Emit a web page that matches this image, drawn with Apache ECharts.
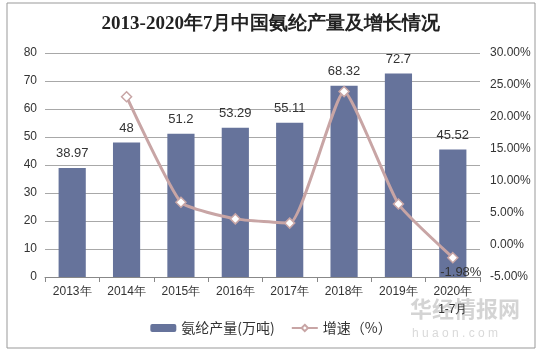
<!DOCTYPE html>
<html>
<head>
<meta charset="utf-8">
<script src="https://cdn.jsdelivr.net/npm/echarts@6/dist/echarts.min.js"></script>
<style>
html,body{margin:0;padding:0;background:#fff;}
#main{width:542px;height:354px;}
</style>
</head>
<body>
<div id="main"></div>
<script>
var years = ['2013年','2014年','2015年','2016年','2017年','2018年','2019年','2020年\n1-7月'];
var output = [38.97, 48, 51.2, 53.29, 55.11, 68.32, 72.7, 45.52];   // 氨纶产量 万吨
var growth = [null, 23.17, 6.67, 4.08, 3.42, 23.97, 6.41, -1.98];  // 增速 %

var myChart = echarts.init(document.getElementById('main'));
var option = {
    backgroundColor: '#fff',
    title: {
        text: '2013-2020年7月中国氨纶产量及增长情况',
        left: 'center',
        top: 10,
        textStyle: {
            fontFamily: 'serif',
            fontSize: 19,
            fontWeight: 'bold',
            color: '#222'
        }
    },
    color: ['#66739b', '#c8a5a5'],
    legend: {
        bottom: 14,
        left: 'center',
        itemGap: 16,
        itemWidth: 26,
        itemHeight: 8,
        textStyle: { fontSize: 14, color: '#333', fontFamily: 'Noto Sans CJK SC' },
        data: ['氨纶产量(万吨)', '增速（%）']
    },
    grid: { left: 45, right: 62, top: 53, bottom: 77 },
    xAxis: {
        type: 'category',
        data: years,
        axisLine: { lineStyle: { color: '#888' } },
        axisTick: { show: true, alignWithLabel: false, length: 5, lineStyle: { color: '#888' } },
        axisLabel: { color: '#333', fontSize: 12, fontFamily: 'Arial', lineHeight: 18, margin: 6 }
    },
    yAxis: [{
        type: 'value',
        min: 0,
        max: 80,
        interval: 10,
        axisLine: { show: false },
        axisTick: { show: false },
        axisLabel: { color: '#333', fontSize: 12, fontFamily: 'Arial', margin: 8 },
        splitLine: { lineStyle: { color: '#a8a8a8' } }
    }, {
        type: 'value',
        min: -5,
        max: 30,
        interval: 5,
        axisLine: { show: false },
        axisTick: { show: false },
        splitLine: { show: false },
        axisLabel: {
            color: '#333', fontSize: 12, fontFamily: 'Arial', margin: 10,
            formatter: function (v) { return v.toFixed(2) + '%'; }
        }
    }],
    series: [{
        name: '氨纶产量(万吨)',
        type: 'bar',
        barWidth: '50%',
        data: output,
        label: {
            show: true,
            position: 'top',
            distance: 8,
            color: '#333',
            fontSize: 13,
            fontFamily: 'Arial'
        }
    }, {
        name: '增速（%）',
        type: 'line',
        yAxisIndex: 1,
        data: growth,
        symbol: 'diamond',
        symbolSize: 10,
        smooth: 0.15,
        lineStyle: { width: 3, color: '#c8a5a5' },
        itemStyle: { color: '#fff', borderColor: '#c8a5a5', borderWidth: 1.5 },
        label: {
            show: true,
            position: 'bottom',
            offset: [8, -3],
            color: '#333',
            fontSize: 13,
            fontFamily: 'Arial',
            formatter: function (p) { return p.dataIndex === 7 ? p.value.toFixed(2) + '%' : ''; }
        },
        z: 5
    }],
    graphic: [{
        type: 'rect',
        shape: { x: 7, y: 3, width: 528, height: 345 },
        style: { fill: 'none', stroke: '#999', lineWidth: 1 },
        silent: true
    }, {
        type: 'text',
        left: 410,
        top: 298,
        style: { text: '华经情报网', fill: 'rgba(160,160,160,0.45)', font: 'bold 22px "Noto Sans CJK SC"' },
        silent: true
    }, {
        type: 'text',
        left: 412,
        top: 328,
        style: { text: 'h u a o n . c o m', fill: 'rgba(170,170,170,0.45)', font: '12px Arial' },
        silent: true
    }]
};
myChart.setOption(option);
</script>
</body>
</html>
